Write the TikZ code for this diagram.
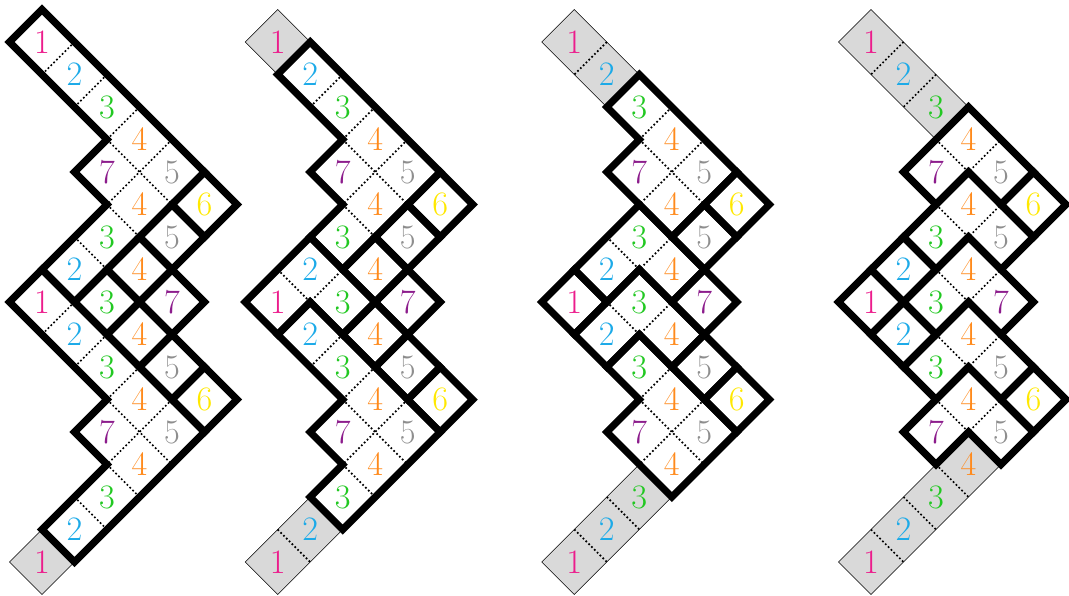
\documentclass[tikz,border=0pt]{standalone}
\usetikzlibrary{positioning}

\definecolor{cOne}{HTML}{EC1C8C}
\definecolor{cTwo}{HTML}{1CAAE8}
\definecolor{cThree}{HTML}{22C822}
\definecolor{cFour}{HTML}{FF8A1C}
\definecolor{cFive}{HTML}{8E8E8E}
\definecolor{cSix}{HTML}{FFE800}
\definecolor{cSeven}{HTML}{8C1C8C}

\tikzset{
	wall/.style={draw=black, line width=5pt, line join=miter},
	seam/.style={draw=black, line width=1.2pt, dash pattern=on 1.2pt off 1.6pt},
	spent/.style={fill=gray!30, draw=black, line width=0.4pt},
	digit/.style={font=\fontsize{24}{28}\selectfont, inner sep=0pt},
	% pieces of the tiling
	single/.pic={\draw[wall] (-1,0) -- (0,-1) -- (1,0) -- (0,1) -- cycle;},
	hookA/.pic={
		\draw[seam] (1,0) -- (0,1) (2,1) -- (1,2) (3,2) -- (2,3) (2,3) -- (4,5) (4,3) -- (2,5) (2,5) -- (3,6) (1,6) -- (2,7);
		\draw[wall] (-1,0) -- (0,-1) -- (5,4) -- (1,8) -- (0,7) -- (2,5) -- (1,4) -- (2,3) -- cycle;},
	hookB/.pic={
		\draw[seam] (2,1) -- (1,2) (3,2) -- (2,3) (2,3) -- (4,5) (4,3) -- (2,5) (2,5) -- (3,6);
		\draw[wall] (0,1) -- (1,0) -- (5,4) -- (2,7) -- (1,6) -- (2,5) -- (1,4) -- (2,3) -- cycle;},
	hookC/.pic={
		\draw[seam] (3,2) -- (2,3) (2,3) -- (4,5) (4,3) -- (2,5);
		\draw[wall] (1,2) -- (2,1) -- (5,4) -- (3,6) -- (2,5) -- (1,4) -- (2,3) -- cycle;},
	vee/.pic={
		\draw[seam] (2,3) -- (3,4) -- (4,3);
		\draw[wall] (3,2) -- (5,4) -- (4,5) -- (3,4) -- (2,5) -- (1,4) -- cycle;}
}

\begin{document}
\begin{tikzpicture}[x={(0.8cm,0)}, y={(0,-0.8cm)}]
\useasboundingbox (-1.292,-1.292) rectangle (31.6,17.046);

% panel 1
\begin{scope}
	\draw[spent] (-1,16) -- (0,15) -- (1,16) -- (0,17) -- cycle;
	\pic at (0,0) {hookA};
	\pic at (0,8) {hookA};
	\foreach \c/\r in {5/5, 4/6, 3/7, 2/8, 4/8, 3/9, 4/10, 5/11}
		\pic at (\c,\r) {single};
\end{scope}

% panel 2
\begin{scope}[xshift=5.802cm]
	\draw[spent] (-1,0) -- (0,-1) -- (1,0) -- (0,1) -- cycle;
	\draw[spent] (-1,16) -- (1,14) -- (2,15) -- (0,17) -- cycle;
	\draw[seam] (0,15) -- (1,16);
	\pic at (0,0) {hookB};
	\pic at (0,8) {hookB};
	\pic at (-2,4) {vee};
	\foreach \c/\r in {5/5, 4/6, 3/7, 4/8, 3/9, 4/10, 5/11}
		\pic at (\c,\r) {single};
\end{scope}

% panel 3
\begin{scope}[xshift=13.103cm]
	\draw[spent] (-1,0) -- (0,-1) -- (2,1) -- (1,2) -- cycle;
	\draw[seam] (1,0) -- (0,1);
	\draw[spent] (-1,16) -- (2,13) -- (3,14) -- (0,17) -- cycle;
	\draw[seam] (0,15) -- (1,16) (1,14) -- (2,15);
	\pic at (0,0) {hookC};
	\pic at (0,8) {hookC};
	\pic at (-1,3) {vee};
	\pic at (-1,5) {vee};
	\foreach \c/\r in {5/5, 4/6, 0/8, 4/8, 4/10, 5/11}
		\pic at (\c,\r) {single};
\end{scope}

% panel 4
\begin{scope}[xshift=20.406cm]
	\draw[spent] (-1,0) -- (0,-1) -- (3,2) -- (2,3) -- cycle;
	\draw[seam] (1,0) -- (0,1) (2,1) -- (1,2);
	\draw[spent] (-1,16) -- (3,12) -- (4,13) -- (0,17) -- cycle;
	\draw[seam] (0,15) -- (1,16) (1,14) -- (2,15) (2,13) -- (3,14);
	\foreach \r in {0,2,...,8}
		\pic at (0,\r) {vee};
	\foreach \c/\r in {5/5, 1/7, 0/8, 1/9, 5/11}
		\pic at (\c,\r) {single};
\end{scope}

% the numbers, the same in every panel
\foreach \p/\sx in {1/0, 2/5.802, 3/13.103, 4/20.406}
	\foreach \c/\r/\n/\col in {0/0/1/cOne, 1/1/2/cTwo, 2/2/3/cThree, 3/3/4/cFour, 2/4/7/cSeven, 4/4/5/cFive,
		3/5/4/cFour, 5/5/6/cSix, 2/6/3/cThree, 4/6/5/cFive, 1/7/2/cTwo, 3/7/4/cFour, 0/8/1/cOne,
		2/8/3/cThree, 4/8/7/cSeven, 1/9/2/cTwo, 3/9/4/cFour, 2/10/3/cThree, 4/10/5/cFive,
		3/11/4/cFour, 5/11/6/cSix, 2/12/7/cSeven, 4/12/5/cFive, 3/13/4/cFour, 2/14/3/cThree,
		1/15/2/cTwo, 0/16/1/cOne}
		\node[digit, text=\col, xshift=\sx cm] (d\p-\c-\r) at (\c,\r) {\n};
\end{tikzpicture}
\end{document}
